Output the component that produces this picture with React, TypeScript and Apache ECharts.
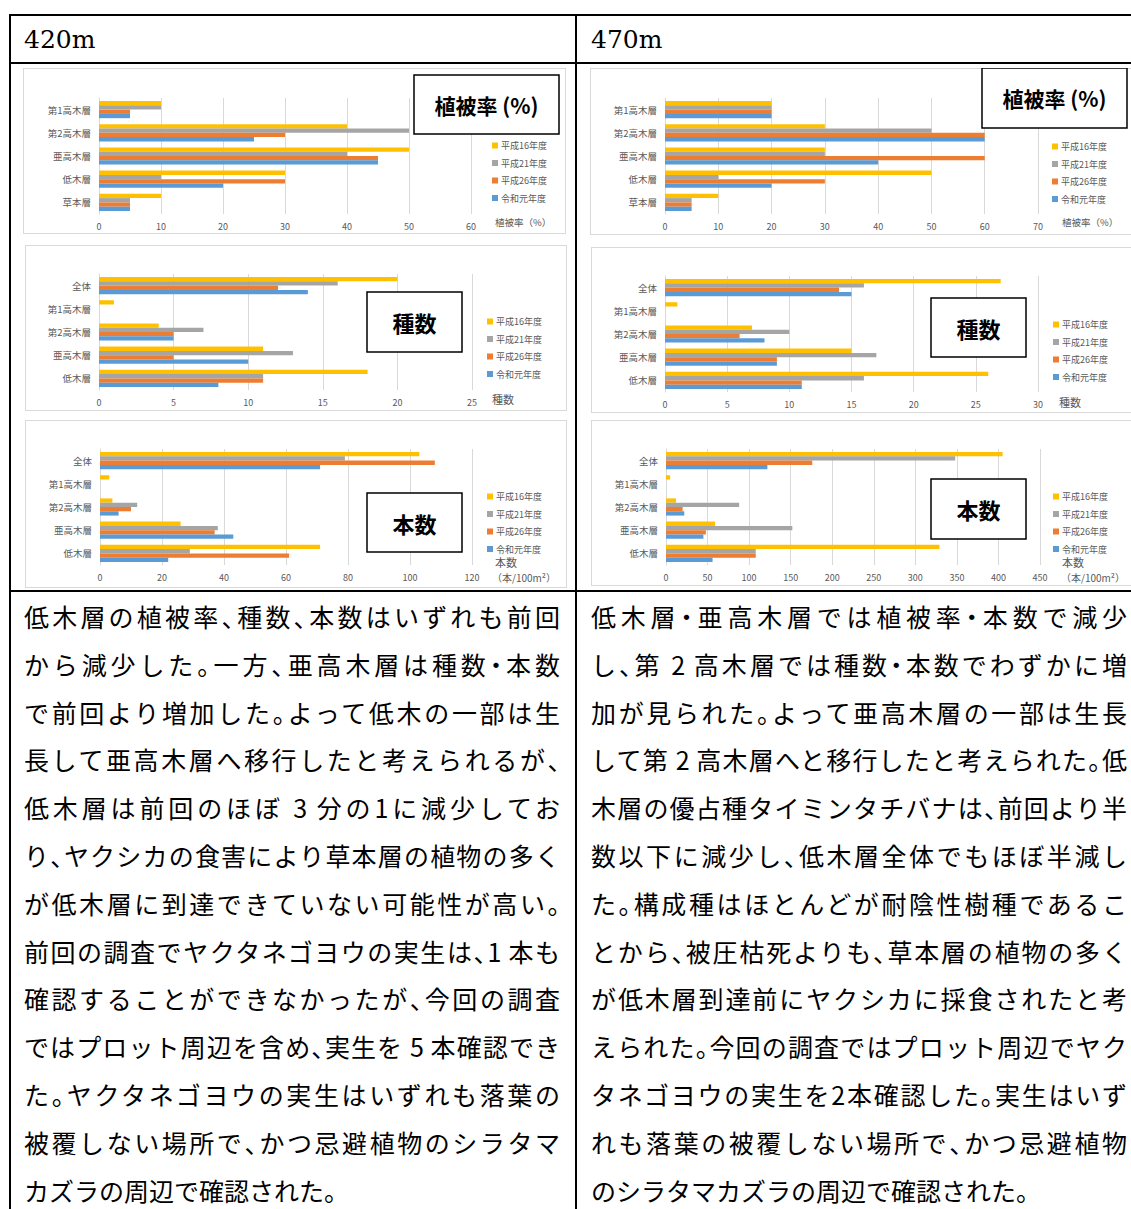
import React, { useEffect, useRef } from "react";
import * as echarts from "echarts";

const FONT = '"Noto Sans CJK JP", "Noto Sans", sans-serif';

const seriesNames = ["平成16年度", "平成21年度", "平成26年度", "令和元年度"];
const seriesColors = ["#FFC000", "#A5A5A5", "#ED7D31", "#5B9BD5"];

const layersCover = ["第1高木層", "第2高木層", "亜高木層", "低木層", "草本層"];
const layersCount = ["全体", "第1高木層", "第2高木層", "亜高木層", "低木層"];

// 420m 植被率 (%)
const cover420_H16 = [10, 40, 50, 30, 10];
const cover420_H21 = [10, 50, 40, 10, 5];
const cover420_H26 = [5, 30, 45, 30, 5];
const cover420_R1 = [5, 25, 45, 20, 5];
// 470m 植被率 (%)
const cover470_H16 = [20, 30, 30, 50, 10];
const cover470_H21 = [20, 50, 30, 10, 5];
const cover470_H26 = [20, 60, 60, 30, 5];
const cover470_R1 = [20, 60, 40, 20, 5];
// 420m 種数
const species420_H16 = [20, 1, 4, 11, 18];
const species420_H21 = [16, 0, 7, 13, 11];
const species420_H26 = [12, 0, 5, 5, 11];
const species420_R1 = [14, 0, 5, 10, 8];
// 470m 種数
const species470_H16 = [27, 1, 7, 15, 26];
const species470_H21 = [16, 0, 10, 17, 16];
const species470_H26 = [14, 0, 6, 9, 11];
const species470_R1 = [15, 0, 8, 9, 11];
// 420m 本数 (本/100m2)
const stems420_H16 = [103, 3, 4, 26, 71];
const stems420_H21 = [79, 0, 12, 38, 29];
const stems420_H26 = [108, 0, 10, 37, 61];
const stems420_R1 = [71, 0, 6, 43, 22];
// 470m 本数 (本/100m2)
const stems470_H16 = [405, 5, 12, 59, 329];
const stems470_H21 = [348, 0, 88, 152, 108];
const stems470_H26 = [176, 0, 20, 48, 108];
const stems470_R1 = [122, 0, 22, 45, 56];

const headers = ["420m", "470m"];

const textLeft = [
  "低木層の植被率、種数、本数はいずれも前回",
  "から減少した。一方、亜高木層は種数・本数",
  "で前回より増加した。よって低木の一部は生",
  "長して亜高木層へ移行したと考えられるが、",
  "低木層は前回のほぼ 3 分の1に減少してお",
  "り、ヤクシカの食害により草本層の植物の多く",
  "が低木層に到達できていない可能性が高い。",
  "前回の調査でヤクタネゴヨウの実生は、1 本も",
  "確認することができなかったが、今回の調査",
  "ではプロット周辺を含め、実生を 5 本確認でき",
  "た。ヤクタネゴヨウの実生はいずれも落葉の",
  "被覆しない場所で、かつ忌避植物のシラタマ",
  "カズラの周辺で確認された。",
];

const textRight = [
  "低木層・亜高木層では植被率・本数で減少",
  "し、第 2 高木層では種数・本数でわずかに増",
  "加が見られた。よって亜高木層の一部は生長",
  "して第 2 高木層へと移行したと考えられた。低",
  "木層の優占種タイミンタチバナは、前回より半",
  "数以下に減少し、低木層全体でもほぼ半減し",
  "た。構成種はほとんどが耐陰性樹種であるこ",
  "とから、被圧枯死よりも、草本層の植物の多く",
  "が低木層到達前にヤクシカに採食されたと考",
  "えられた。今回の調査ではプロット周辺でヤク",
  "タネゴヨウの実生を2本確認した。実生はいず",
  "れも落葉の被覆しない場所で、かつ忌避植物",
  "のシラタマカズラの周辺で確認された。",
];

type Cfg = {
  box: { x: number; y: number; w: number; h: number };
  grid: { left: number; top: number; width: number; height: number };
  cats: string[];
  values: number[][];
  max: number;
  interval: number;
  legend: { left: number; top: number };
  title: { text: string; x: number; y: number; w: number; h: number; size: number };
  names: { text: string; x: number; y: number; size: number }[];
};

const charts: Cfg[] = [
  {
    box: { x: 23, y: 68, w: 543, h: 166 },
    grid: { left: 76, top: 30, width: 372, height: 116 },
    cats: layersCover,
    values: [cover420_H16, cover420_H21, cover420_H26, cover420_R1],
    max: 60,
    interval: 10,
    legend: { left: 469, top: 73 },
    title: { text: "植被率 (%)", x: 391, y: 7, w: 145, h: 59, size: 21 },
    names: [{ text: "植被率（%）", x: 472, y: 154, size: 9.5 }],
  },
  {
    box: { x: 590, y: 68, w: 542, h: 167 },
    grid: { left: 75, top: 30, width: 373, height: 116 },
    cats: layersCover,
    values: [cover470_H16, cover470_H21, cover470_H26, cover470_R1],
    max: 70,
    interval: 10,
    legend: { left: 462, top: 74 },
    title: { text: "植被率 (%)", x: 392, y: 0, w: 145, h: 60, size: 21 },
    names: [{ text: "植被率（%）", x: 472, y: 154, size: 9.5 }],
  },
  {
    box: { x: 25, y: 245, w: 542, h: 166 },
    grid: { left: 74, top: 29, width: 373, height: 116 },
    cats: layersCount,
    values: [species420_H16, species420_H21, species420_H26, species420_R1],
    max: 25,
    interval: 5,
    legend: { left: 462, top: 72 },
    title: { text: "種数", x: 342, y: 47, w: 95, h: 60, size: 22 },
    names: [{ text: "種数", x: 467, y: 154, size: 11 }],
  },
  {
    box: { x: 591, y: 247, w: 541, h: 166 },
    grid: { left: 74, top: 29, width: 373, height: 116 },
    cats: layersCount,
    values: [species470_H16, species470_H21, species470_H26, species470_R1],
    max: 30,
    interval: 5,
    legend: { left: 462, top: 73 },
    title: { text: "種数", x: 340, y: 51, w: 95, h: 59, size: 22 },
    names: [{ text: "種数", x: 468, y: 155, size: 11 }],
  },
  {
    box: { x: 25, y: 420, w: 542, h: 168 },
    grid: { left: 75, top: 29, width: 372, height: 116 },
    cats: layersCount,
    values: [stems420_H16, stems420_H21, stems420_H26, stems420_R1],
    max: 120,
    interval: 20,
    legend: { left: 462, top: 72 },
    title: { text: "本数", x: 342, y: 73, w: 95, h: 59, size: 22 },
    names: [
      { text: "本数", x: 470, y: 142, size: 11 },
      { text: "（本/100m²）", x: 467, y: 157, size: 10 },
    ],
  },
  {
    box: { x: 591, y: 420, w: 541, h: 166 },
    grid: { left: 75, top: 29, width: 374, height: 116 },
    cats: layersCount,
    values: [stems470_H16, stems470_H21, stems470_H26, stems470_R1],
    max: 450,
    interval: 50,
    legend: { left: 462, top: 72 },
    title: { text: "本数", x: 340, y: 59, w: 95, h: 60, size: 22 },
    names: [
      { text: "本数", x: 471, y: 142, size: 11 },
      { text: "（本/100m²）", x: 470, y: 157, size: 10 },
    ],
  },
];

function BarPanel({ cfg }: { cfg: Cfg }) {
  const ref = useRef<HTMLDivElement>(null);
  useEffect(() => {
    const chart = echarts.init(ref.current as HTMLDivElement, null, { renderer: "svg" });
    const graphic: any[] = [
      {
        type: "rect",
        z: 100,
        shape: { x: cfg.title.x, y: cfg.title.y, width: cfg.title.w, height: cfg.title.h },
        style: { fill: "#ffffff", stroke: "#000000", lineWidth: 1.5 },
      },
      {
        type: "text",
        z: 101,
        x: cfg.title.x + cfg.title.w / 2,
        y: cfg.title.y + cfg.title.h / 2,
        style: {
          text: cfg.title.text,
          fontFamily: FONT,
          fontSize: cfg.title.size,
          fontWeight: "bold",
          fill: "#000000",
          textAlign: "center",
          textVerticalAlign: "middle",
        },
      },
      ...cfg.names.map((n) => ({
        type: "text",
        z: 101,
        x: n.x,
        y: n.y,
        style: {
          text: n.text,
          fontFamily: FONT,
          fontSize: n.size,
          fill: "#595959",
          textAlign: "left",
          textVerticalAlign: "middle",
        },
      })),
    ];
    chart.setOption({
      animation: false,
      textStyle: { fontFamily: FONT },
      grid: { ...cfg.grid, containLabel: false },
      xAxis: {
        type: "value",
        min: 0,
        max: cfg.max,
        interval: cfg.interval,
        axisLine: { show: false },
        axisTick: { show: false },
        splitLine: { lineStyle: { color: "#d9d9d9", width: 1 } },
        axisLabel: { fontSize: 9, color: "#595959", margin: 8, fontFamily: FONT },
      },
      yAxis: {
        type: "category",
        data: cfg.cats,
        inverse: true,
        axisLine: { lineStyle: { color: "#d9d9d9" } },
        axisTick: { show: false },
        axisLabel: { fontSize: 9.5, color: "#595959", margin: 8, fontFamily: FONT },
      },
      legend: {
        orient: "vertical",
        left: cfg.legend.left,
        top: cfg.legend.top,
        itemWidth: 6,
        itemHeight: 6,
        itemGap: 8.5,
        icon: "rect",
        padding: 0,
        textStyle: { fontSize: 9, color: "#595959", fontFamily: FONT, padding: [0, 0, 0, -2] },
        data: seriesNames,
      },
      series: seriesNames.map((n, i) => ({
        type: "bar",
        name: n,
        data: cfg.values[i],
        itemStyle: { color: seriesColors[i] },
        barGap: "0%",
        barCategoryGap: "26%",
      })),
      graphic,
    });
    return () => chart.dispose();
  }, []);
  return (
    <div
      style={{
        position: "absolute",
        left: cfg.box.x,
        top: cfg.box.y,
        width: cfg.box.w,
        height: cfg.box.h,
        border: "1px solid #d9d9d9",
        boxSizing: "border-box",
        background: "#fff",
      }}
    >
      <div ref={ref} style={{ position: "absolute", left: -1, top: -1, width: cfg.box.w, height: cfg.box.h }} />
    </div>
  );
}

function Line({ x, y, w, h }: { x: number; y: number; w: number; h: number }) {
  return <div style={{ position: "absolute", left: x, top: y, width: w, height: h, background: "#000" }} />;
}

const NARROW = "、。・";

function renderRuns(t: string) {
  const out: React.ReactNode[] = [];
  let buf = "";
  let k = 0;
  for (const ch of t) {
    if (NARROW.includes(ch)) {
      if (buf) out.push(<span key={k++}>{buf}</span>);
      buf = "";
      out.push(
        <span key={k++} style={{ fontFeatureSettings: '"halt"' }}>
          {ch}
        </span>
      );
    } else {
      buf += ch;
    }
  }
  if (buf) out.push(<span key={k++}>{buf}</span>);
  return out;
}

function TextBlock({ lines, x }: { lines: string[]; x: number }) {
  return (
    <>
      {lines.map((t, i) => (
        <div
          key={i}
          style={{
            position: "absolute",
            left: x,
            top: 616 + i * 47.8 - 15,
            width: 536,
            height: 30,
            lineHeight: "30px",
            fontSize: 25,
            fontFamily: FONT,
            color: "#000",
            whiteSpace: "nowrap",
            textAlign: i === lines.length - 1 ? "left" : "justify",
            textAlignLast: i === lines.length - 1 ? "left" : "justify",
          } as any}
        >
          {renderRuns(t)}
        </div>
      ))}
    </>
  );
}

export default function App() {
  return (
    <div
      style={{
        position: "absolute",
        left: 0,
        top: 0,
        width: 1131,
        height: 1209,
        overflow: "hidden",
        background: "#fff",
      }}
    >
      <Line x={9} y={14} w={1140} h={2} />
      <Line x={9} y={62} w={1140} h={2} />
      <Line x={9} y={590} w={1140} h={2} />
      <Line x={9} y={14} w={2} h={1220} />
      <Line x={575} y={14} w={2} h={1220} />
      {headers.map((h, i) => (
        <div
          key={h}
          style={{
            position: "absolute",
            left: i === 0 ? 24 : 591,
            top: 24,
            height: 32,
            lineHeight: "32px",
            fontSize: 25,
            fontFamily: '"DejaVu Serif", serif',
            color: "#000",
          }}
        >
          {h}
        </div>
      ))}
      {charts.map((c, i) => (
        <BarPanel key={i} cfg={c} />
      ))}
      <TextBlock lines={textLeft} x={24} />
      <TextBlock lines={textRight} x={591} />
    </div>
  );
}
